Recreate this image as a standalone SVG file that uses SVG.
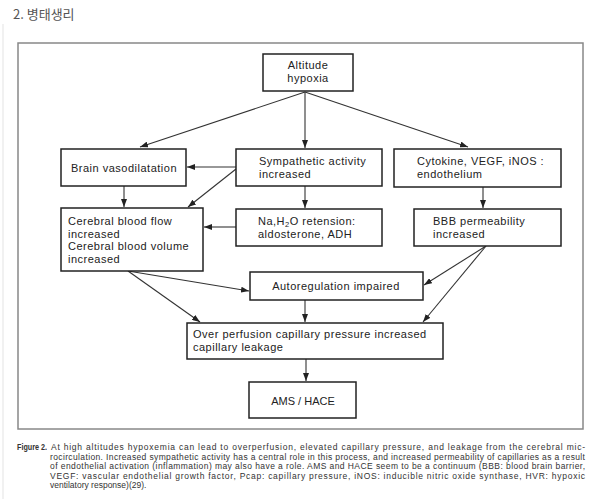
<svg xmlns="http://www.w3.org/2000/svg" width="600" height="499" viewBox="0 0 600 499">
<defs>
<style>
.box{fill:#fff;stroke:#222;stroke-width:1.5}
.t{font-family:"Liberation Sans","Noto Sans CJK KR",Arial,sans-serif;font-size:11px;letter-spacing:0.5px;fill:#222}
.c{text-anchor:middle}
.cap{font-family:"Liberation Sans",Arial,sans-serif;font-size:8.5px;fill:#333}
.e{fill:none;stroke:#333;stroke-width:1.1}
</style>
<marker id="ah" markerUnits="userSpaceOnUse" markerWidth="8" markerHeight="6" refX="8" refY="3" orient="auto">
<path d="M0,0 L8,3 L0,6 z" fill="#222"/>
</marker>
</defs>
<rect width="600" height="499" fill="#fff"/>
<line x1="3" y1="24" x2="3" y2="499" stroke="#ececec" stroke-width="1.5"/>
<text x="13" y="19" font-family="'Noto Sans CJK KR','Liberation Sans',sans-serif" font-size="13" fill="#555">2. 병태생리</text>
<rect x="18" y="43" width="565" height="386" fill="none" stroke="#888" stroke-width="1.5"/>

<g id="edges">
<line class="e" x1="305" y1="92" x2="140" y2="147" marker-end="url(#ah)"/>
<line class="e" x1="305" y1="92" x2="305" y2="148" marker-end="url(#ah)"/>
<line class="e" x1="305" y1="92" x2="468" y2="147" marker-end="url(#ah)"/>
<line class="e" x1="236" y1="167" x2="187" y2="167" marker-end="url(#ah)"/>
<line class="e" x1="236" y1="169" x2="188" y2="207" marker-end="url(#ah)"/>
<line class="e" x1="124" y1="186" x2="124" y2="207" marker-end="url(#ah)"/>
<line class="e" x1="305" y1="186" x2="305" y2="208" marker-end="url(#ah)"/>
<line class="e" x1="483" y1="187" x2="483" y2="208" marker-end="url(#ah)"/>
<line class="e" x1="236" y1="227" x2="204" y2="227" marker-end="url(#ah)"/>
<line class="e" x1="128" y1="271" x2="249" y2="291" marker-end="url(#ah)"/>
<line class="e" x1="128" y1="271" x2="200" y2="322" marker-end="url(#ah)"/>
<line class="e" x1="486" y1="246" x2="424" y2="285" marker-end="url(#ah)"/>
<line class="e" x1="486" y1="246" x2="423" y2="322" marker-end="url(#ah)"/>
<line class="e" x1="305" y1="300" x2="305" y2="322" marker-end="url(#ah)"/>
<line class="e" x1="306" y1="359" x2="306" y2="381" marker-end="url(#ah)"/>
</g>

<g id="altitude">
<rect class="box" x="263" y="54" width="90" height="37"/>
<text class="t c" x="308" y="69">Altitude</text>
<text class="t c" x="308" y="82">hypoxia</text>
</g>
<g id="brain">
<rect class="box" x="61" y="149" width="125" height="37"/>
<text class="t" x="71" y="172">Brain vasodilatation</text>
</g>
<g id="sympathetic">
<rect class="box" x="236" y="149" width="146" height="37"/>
<text class="t" x="259" y="165">Sympathetic activity</text>
<text class="t" x="259" y="178">increased</text>
</g>
<g id="cytokine">
<rect class="box" x="394" y="149" width="167" height="38"/>
<text class="t" x="417" y="165">Cytokine, VEGF, iNOS :</text>
<text class="t" x="417" y="178">endothelium</text>
</g>
<g id="cerebral">
<rect class="box" x="61" y="208" width="142" height="63"/>
<text class="t" x="68" y="225">Cerebral blood flow</text>
<text class="t" x="68" y="237.5">increased</text>
<text class="t" x="68" y="250">Cerebral blood volume</text>
<text class="t" x="68" y="262.5">increased</text>
</g>
<g id="na">
<rect class="box" x="236" y="209" width="146" height="37"/>
<text class="t" x="258" y="225">Na,H<tspan font-size="7.5" dy="2">2</tspan><tspan dy="-2">O retension:</tspan></text>
<text class="t" x="258" y="238">aldosterone, ADH</text>
</g>
<g id="bbb">
<rect class="box" x="414" y="209" width="147" height="37"/>
<text class="t" x="433" y="225">BBB permeability</text>
<text class="t" x="433" y="238">increased</text>
</g>
<g id="autoreg">
<rect class="box" x="250" y="272" width="173" height="28"/>
<text class="t c" x="336" y="290">Autoregulation impaired</text>
</g>
<g id="overperfusion">
<rect class="box" x="187" y="323" width="256" height="36"/>
<text class="t" x="193" y="338">Over perfusion capillary pressure increased</text>
<text class="t" x="193" y="350.5">capillary leakage</text>
</g>
<g id="ams">
<rect class="box" x="249" y="382" width="107" height="36"/>
<text class="t c" x="303" y="405" style="letter-spacing:0">AMS / HACE</text>
</g>

<g id="caption">
<text class="cap" x="17" y="450" font-weight="bold" font-size="7.5" textLength="30" lengthAdjust="spacingAndGlyphs">Figure 2.</text>
<text class="cap" x="51" y="450" textLength="534" lengthAdjust="spacing">At high altitudes hypoxemia can lead to overperfusion, elevated capillary pressure, and leakage from the cerebral mic-</text>
<text class="cap" x="50" y="459.5" textLength="535" lengthAdjust="spacing">rocirculation. Increased sympathetic activity has a central role in this process, and increased permeability of capillaries as a result</text>
<text class="cap" x="50" y="469" textLength="535" lengthAdjust="spacing">of endothelial activation (inflammation) may also have a role. AMS and HACE seem to be a continuum (BBB: blood brain barrier,</text>
<text class="cap" x="50" y="478.5" textLength="535" lengthAdjust="spacing">VEGF: vascular endothelial growth factor, Pcap: capillary pressure, iNOS: inducible nitric oxide synthase, HVR: hypoxic</text>
<text class="cap" x="50" y="488">ventilatory response)(29).</text>
</g>
</svg>
